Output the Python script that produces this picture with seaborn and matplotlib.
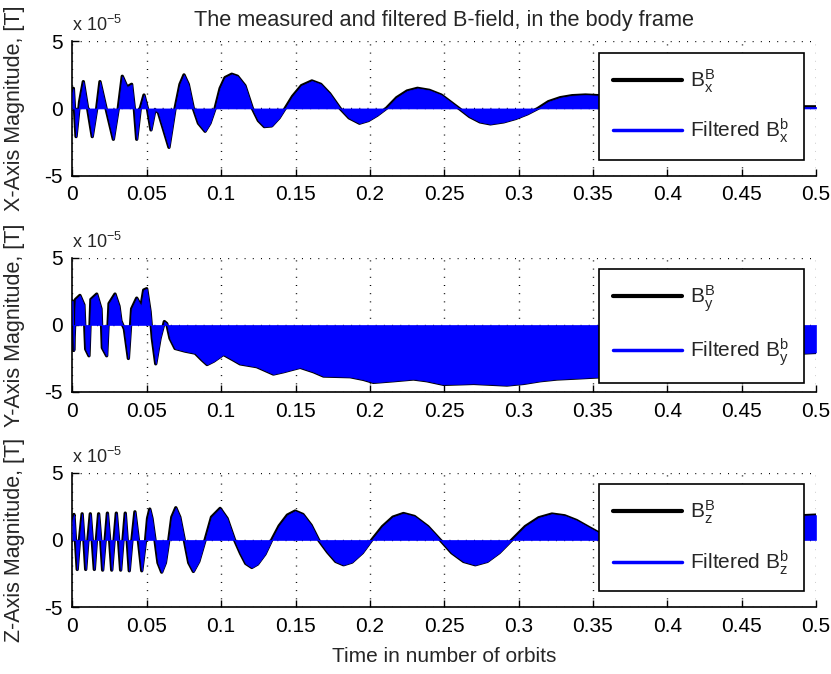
import matplotlib
matplotlib.use("Agg")
import matplotlib.pyplot as plt
from matplotlib.lines import Line2D
import seaborn as sns

sns.set_style("white")
plt.rcParams["font.family"] = ["Liberation Sans", "DejaVu Sans"]
plt.rcParams["mathtext.fontset"] = "custom"
plt.rcParams["mathtext.rm"] = "Liberation Sans"
plt.rcParams["mathtext.it"] = "Liberation Sans"
plt.rcParams["mathtext.default"] = "regular"
plt.rcParams["axes.unicode_minus"] = False

# ===============================
# DATA (B-field in units of 1e-5 T, time in orbits)
# ===============================
t_x = [0.0, 0.0006, 0.0024, 0.0048, 0.0073, 0.0102, 0.0133, 0.0163, 0.0185, 0.023,
       0.0275, 0.0308, 0.0335, 0.0367, 0.0398, 0.0416, 0.0432, 0.0456, 0.0481, 0.0504,
       0.0528, 0.0555, 0.0578, 0.0611, 0.0649, 0.069, 0.0723, 0.075, 0.0779, 0.0813,
       0.0847, 0.0892, 0.0925, 0.0959, 0.0993, 0.1026, 0.1071, 0.111, 0.116, 0.121,
       0.125, 0.129, 0.134, 0.139, 0.143, 0.148, 0.154, 0.161, 0.167, 0.173,
       0.18, 0.186, 0.193, 0.199, 0.205, 0.211, 0.218, 0.225, 0.232, 0.24,
       0.248, 0.254, 0.26, 0.267, 0.274, 0.281, 0.29, 0.298, 0.306, 0.313,
       0.32, 0.328, 0.336, 0.345, 0.354, 0.37, 0.39, 0.41, 0.43, 0.45,
       0.47, 0.49, 0.5]
b_x = [1.2, 1.5, -2.1, 0.5, 2.0, 0.0, -2.1, 0.0, 2.0, -0.2,
       -2.3, 0.0, 2.4, 1.6, 1.8, 0.0, -2.3, 0.0, 1.0, 0.0,
       -1.6, -0.1, -0.3, -1.5, -2.9, 0.0, 1.8, 2.5, 1.8, 0.0,
       -1.1, -1.7, -1.1, 0.0, 1.5, 2.3, 2.55, 2.4, 1.7, 0.0,
       -0.9, -1.35, -1.3, -0.7, 0.0, 0.9, 1.7, 2.05, 1.8, 1.1,
       0.0, -0.7, -1.1, -0.9, -0.5, 0.0, 0.8, 1.3, 1.5, 1.35,
       1.0, 0.5, 0.0, -0.6, -1.0, -1.15, -1.0, -0.75, -0.4, 0.0,
       0.5, 0.8, 0.95, 1.0, 0.95, 0.7, 0.2, -0.3, -0.5, -0.3,
       0.0, 0.12, 0.12]

t_y = [0.0, 0.0008, 0.0021, 0.005, 0.0077, 0.0089, 0.0111, 0.0124, 0.0163, 0.0192,
       0.0201, 0.023, 0.0246, 0.0286, 0.0313, 0.0326, 0.0349, 0.0376, 0.0398, 0.0432,
       0.0461, 0.0479, 0.0499, 0.0522, 0.0537, 0.056, 0.0589, 0.0618, 0.0634, 0.0656,
       0.069, 0.0757, 0.0825, 0.087, 0.0905, 0.095, 0.1015, 0.108, 0.1127, 0.1239,
       0.1351, 0.1419, 0.1531, 0.1621, 0.1688, 0.1867, 0.1957, 0.2024, 0.2159, 0.2293,
       0.2383, 0.2496, 0.2698, 0.2922, 0.3034, 0.3146, 0.3259, 0.3371, 0.3562, 0.38,
       0.41, 0.44, 0.47, 0.5]
b_y = [1.8, -1.9, 1.9, 2.2, 1.5, -1.8, -2.3, 1.9, 2.3, 1.2,
       -1.7, -2.3, 1.6, 2.3, 1.4, 0.3, -0.3, -2.5, 1.2, 2.0,
       1.4, 2.6, 2.7, 1.0, -1.0, -2.9, -1.0, 0.25, 0.1, -1.0,
       -1.75, -1.95, -2.1, -2.6, -2.95, -2.7, -2.2, -2.6, -2.9, -3.11,
       -3.66, -3.49, -3.16, -3.49, -3.81, -3.86, -4.06, -4.28, -4.16, -4.03,
       -4.16, -4.43, -4.36, -4.48, -4.36, -4.16, -4.03, -3.97, -3.86, -3.5,
       -3.0, -2.6, -2.2, -2.05]

t_z = [0.0, 0.001, 0.002, 0.0032, 0.0047, 0.0065, 0.0077, 0.0089, 0.0104, 0.012,
       0.0133, 0.0147, 0.0161, 0.0176, 0.019, 0.0203, 0.022, 0.0235, 0.025, 0.0264,
       0.028, 0.0295, 0.031, 0.0324, 0.034, 0.0355, 0.0368, 0.0382, 0.04, 0.042,
       0.0443, 0.0466, 0.0492, 0.0505, 0.052, 0.0535, 0.0555, 0.0575, 0.06, 0.0625,
       0.0648, 0.0668, 0.0695, 0.0722, 0.0752, 0.0782, 0.0813, 0.085, 0.0892, 0.0935,
       0.0993, 0.104, 0.109, 0.113, 0.1165, 0.1206, 0.1245, 0.1295, 0.134, 0.139,
       0.1445, 0.1497, 0.155, 0.1605, 0.1655, 0.1715, 0.177, 0.1823, 0.188, 0.195,
       0.2013, 0.2085, 0.2155, 0.2226, 0.23, 0.239, 0.2473, 0.255, 0.263, 0.2709,
       0.279, 0.287, 0.2955, 0.3045, 0.3135, 0.3224, 0.331, 0.339, 0.347, 0.356,
       0.37, 0.39, 0.41, 0.43, 0.45, 0.47, 0.49, 0.5]
b_z = [1.5, 1.9, 0.0, -2.2, 0.0, 1.95, 0.0, -2.2, 0.0, 1.95,
       0.0, -2.2, 0.0, 1.95, 0.0, -2.25, 0.0, 2.0, 0.0, -2.25,
       0.0, 2.0, 0.0, -2.25, 0.0, 2.0, 0.0, -2.3, 0.0, 2.1,
       0.0, -2.3, 0.0, 1.6, 2.3, 1.6, 0.0, -1.7, -2.4, -1.7,
       0.0, 1.7, 2.4, 1.7, 0.0, -1.7, -2.35, -1.6, 0.0, 1.7,
       2.35, 1.6, 0.0, -1.0, -1.75, -2.05, -1.8, -1.05, 0.0, 1.05,
       1.85, 2.15, 1.9, 1.1, 0.0, -0.9, -1.6, -1.85, -1.65, -0.95,
       0.0, 1.0, 1.7, 1.97, 1.75, 1.0, 0.0, -0.95, -1.6, -1.85,
       -1.6, -0.95, 0.0, 1.0, 1.65, 1.93, 1.8, 1.45, 0.95, 0.4,
       0.0, -1.2, -1.6, -1.2, 0.0, 1.3, 1.8, 1.85]

x_ticks = [0, 0.05, 0.1, 0.15, 0.2, 0.25, 0.3, 0.35, 0.4, 0.45, 0.5]
x_tick_labels = ["0", "0.05", "0.1", "0.15", "0.2", "0.25", "0.3", "0.35", "0.4", "0.45", "0.5"]
y_ticks = [-5, 0, 5]
y_tick_labels = ["-5", "0", "5"]

components = ["x", "y", "z"]
y_labels = ["X-Axis Magnitude, [T]", "Y-Axis Magnitude, [T]", "Z-Axis Magnitude, [T]"]
series = [(t_x, b_x), (t_y, b_y), (t_z, b_z)]

BLUE = "#0000ff"
FS = 15

fig = plt.figure(figsize=(8.31, 6.74), dpi=100)
bottoms = [0.7396, 0.4184, 0.0994]

for i, (t, b) in enumerate(series):
    ax = fig.add_axes([0.0872, bottoms[i], 0.8947, 0.199])
    c = components[i]

    # measured field (black) under the filtered one (blue band from 0)
    sns.lineplot(x=t, y=b, color="k", lw=2.4, ax=ax, zorder=2)
    ax.fill_between(t, 0, b, facecolor=BLUE, edgecolor=BLUE, lw=0.5,
                    antialiased=False, zorder=3)

    ax.set_xlim(0, 0.5)
    ax.set_ylim(-5, 5)
    ax.set_xticks(x_ticks)
    ax.set_xticklabels(x_tick_labels)
    ax.set_yticks(y_ticks)
    ax.set_yticklabels(y_tick_labels)
    ax.tick_params(direction="in", length=5, width=1, colors="k", labelsize=FS,
                   bottom=True, left=True, pad=7)

    ax.set_axisbelow(True)
    ax.grid(True, color="k", lw=1.0, linestyle=(0, (0.7, 5.2)))
    sns.despine(ax=ax)
    for s in ["left", "bottom"]:
        ax.spines[s].set_color("k")
        ax.spines[s].set_linewidth(1.2)

    ax.set_ylabel(y_labels[i], fontsize=15.5)
    ax.yaxis.set_label_coords(-0.064, 0.5)

    ax.text(0.0, 1.075, r"x 10$^{-5}$", transform=ax.transAxes, fontsize=13,
            ha="left", va="baseline")

    handles = [Line2D([], [], color="k", lw=3), Line2D([], [], color=BLUE, lw=2.5)]
    labels = ["B$_%s^B$" % c, "Filtered B$_%s^b$" % c]
    leg = ax.legend(handles, labels, loc="upper right", bbox_to_anchor=(0.984, 0.915),
                    fancybox=False, framealpha=1, edgecolor="k", fontsize=FS,
                    handlelength=3.3, handletextpad=0.4, labelspacing=1.05,
                    borderpad=0.7, borderaxespad=0)
    leg.get_frame().set_linewidth(1.2)

    if i == 0:
        ax.set_title("The measured and filtered B-field, in the body frame",
                     fontsize=15.7, pad=11)
    if i == 2:
        ax.set_xlabel("Time in number of orbits", fontsize=FS, labelpad=8)

plt.savefig("out.png", dpi=100)
plt.close()
